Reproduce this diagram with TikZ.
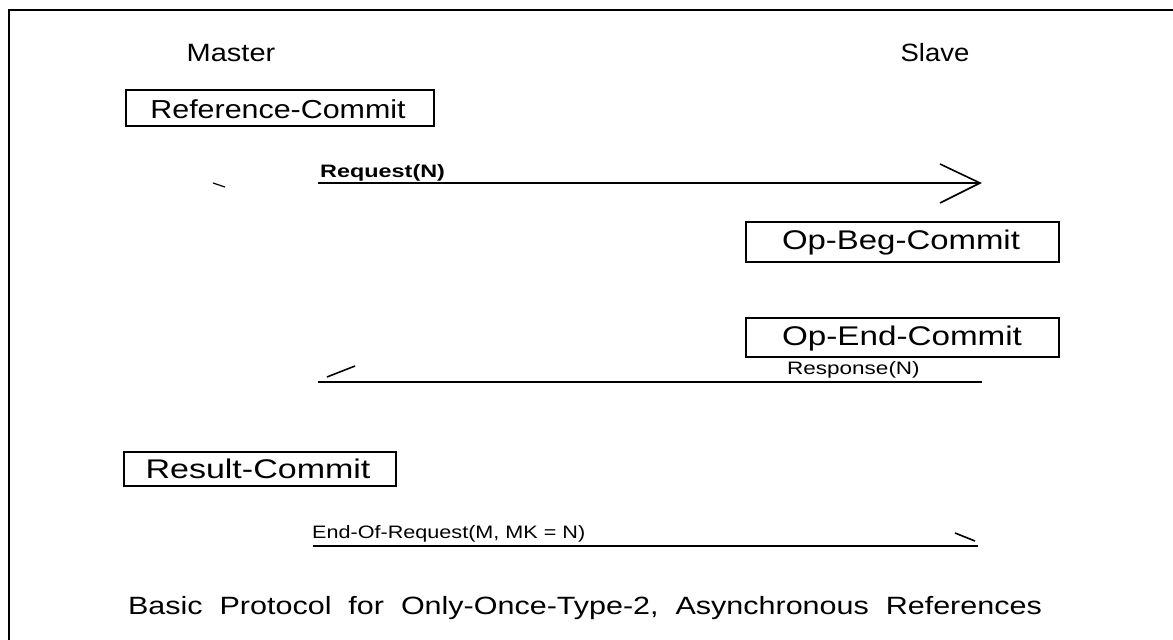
\documentclass[tikz,border=0pt]{standalone}
\usepackage{fontspec}
\setmainfont{Liberation Sans}
\begin{document}
\begin{tikzpicture}[x=1pt,y=-1pt,
  frame/.style={line width=2pt},
  box/.style={draw,line width=1.8pt},
  msg/.style={line width=2pt},
  tick/.style={line width=1.6pt},
  bigtxt/.style={font=\fontsize{25}{28}\selectfont,inner sep=0pt},
  boxtxt/.style={font=\fontsize{27}{30}\selectfont,inner sep=0pt},
  smalltxt/.style={font=\fontsize{18}{20}\selectfont,inner sep=0pt,anchor=base west}]
\useasboundingbox (0,0) rectangle (1173,640);
\draw[frame] (1173,10) -- (9,10) -- (9,640);
% headers
\node[bigtxt] (master) at (231,53) {\scalebox{1.16}[1]{Master}};
\node[bigtxt] (slave) at (935,53) {\scalebox{1.1}[1]{Slave}};
% commit boxes
\draw[box] (126,90) rectangle (434,126);
\node[font=\fontsize{26}{28}\selectfont,inner sep=0pt] (rc) at (278,109) {\scalebox{1.17}[1]{Reference-Commit}};
\draw[box] (746,222) rectangle (1059,262);
\node[boxtxt] (obc) at (901,243) {\scalebox{1.22}[1]{Op-Beg-Commit}};
\draw[box] (746,318) rectangle (1059,357);
\node[boxtxt] (oec) at (902,339) {\scalebox{1.23}[1]{Op-End-Commit}};
\draw[box] (124,452) rectangle (396,486);
\node[boxtxt] (resc) at (258,469) {\scalebox{1.26}[1]{Result-Commit}};
% request
\coordinate (reqs) at (318,183);
\coordinate (reqe) at (980,183);
\coordinate (reqa1) at (940,164);
\coordinate (reqa2) at (940,203);
\draw[msg] (reqs) -- (reqe);
\draw[tick] (reqa1) -- (reqe) -- (reqa2);
\node[smalltxt,font=\fontsize{18}{20}\selectfont\bfseries] (req) at (320,177) {\scalebox{1.3}[1]{Request(N)}};
\coordinate (st1) at (213,183);
\coordinate (st2) at (225,187);
\draw[line width=1.2pt] (st1) -- (st2);
% response
\coordinate (ress) at (318,382);
\coordinate (rese) at (982,382);
\draw[msg] (ress) -- (rese);
\coordinate (rt1) at (327,377);
\coordinate (rt2) at (355,366);
\draw[tick] (rt1) -- (rt2);
\node[smalltxt] (resp) at (787,374) {\scalebox{1.25}[1]{Response(N)}};
\coordinate (eors) at (313,546);
\coordinate (eore) at (978,546);
\draw[msg] (eors) -- (eore);
\coordinate (et1) at (955,533);
\coordinate (et2) at (975,541);
\draw[tick] (et1) -- (et2);
\node[smalltxt] (eor) at (312,538) {\scalebox{1.2}[1]{End-Of-Request(M, MK = N)}};
% caption
\node[bigtxt] (cap) at (585,608) {\scalebox{1.22}[1]{Basic\ \ Protocol\ \ for\ \ Only-Once-Type-2,\ \ Asynchronous\ \ References}};
\end{tikzpicture}
\end{document}
